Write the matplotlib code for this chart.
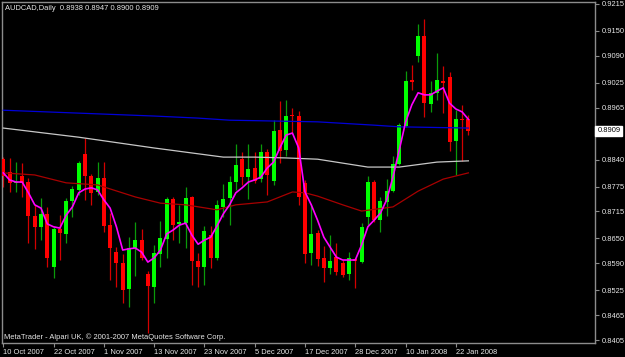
import matplotlib

matplotlib.use("Agg")

import matplotlib.pyplot as plt
import matplotlib.transforms as mtransforms
import numpy as np

plt.rcParams["font.family"] = ["Liberation Sans", "DejaVu Sans"]

# daily AUDCAD bars, 10 Oct 2007 .. 24 Jan 2008
opens = [0.8841, 0.8810, 0.8784, 0.8800, 0.8786, 0.8704, 0.8678, 0.8709, 0.8581, 0.8673,
         0.8661, 0.8740, 0.8767, 0.8854, 0.8800, 0.8762, 0.8796, 0.8682, 0.8617, 0.8591,
         0.8528, 0.8627, 0.8646, 0.8564, 0.8533, 0.8613, 0.8649, 0.8745, 0.8685, 0.8687,
         0.8750, 0.8596, 0.8581, 0.8658, 0.8603, 0.8726, 0.8747, 0.8786, 0.8841, 0.8798,
         0.8820, 0.8793, 0.8858, 0.8788, 0.8911, 0.8863, 0.8947, 0.8945, 0.8784, 0.8615,
         0.8663, 0.8603, 0.8579, 0.8605, 0.8591, 0.8564, 0.8600, 0.8593, 0.8702, 0.8786,
         0.8694, 0.8738, 0.8764, 0.8829, 0.8921, 0.9032, 0.9090, 0.9138, 0.8974, 0.9001,
         0.9029, 0.9039, 0.8884, 0.8938, 0.8938]
highs = [0.8846, 0.8844, 0.8834, 0.8832, 0.8796, 0.8731, 0.8747, 0.8726, 0.8678, 0.8706,
         0.8747, 0.8776, 0.8837, 0.8892, 0.8805, 0.8834, 0.8834, 0.8711, 0.8629, 0.8613,
         0.8653, 0.8690, 0.8673, 0.8572, 0.8634, 0.8692, 0.8750, 0.8750, 0.8731, 0.8774,
         0.8752, 0.8615, 0.8680, 0.8680, 0.8743, 0.8781, 0.8800, 0.8878, 0.8858, 0.8878,
         0.8858, 0.8878, 0.8866, 0.8935, 0.8981, 0.8984, 0.8964, 0.8957, 0.8791, 0.8733,
         0.8670, 0.8632, 0.8658, 0.8639, 0.8598, 0.8617, 0.8603, 0.8687, 0.8800, 0.8791,
         0.8750, 0.8793, 0.8849, 0.8928, 0.9054, 0.9068, 0.9167, 0.9179, 0.9029, 0.9097,
         0.9065, 0.9051, 0.8960, 0.8972, 0.8947]
lows = [0.8774, 0.8762, 0.8762, 0.8750, 0.8639, 0.8625, 0.8646, 0.8581, 0.8555, 0.8598,
        0.8639, 0.8702, 0.8755, 0.8743, 0.8731, 0.8755, 0.8666, 0.8550, 0.8533, 0.8494,
        0.8485, 0.8559, 0.8598, 0.8422, 0.8494, 0.8581, 0.8603, 0.8646, 0.8639, 0.8627,
        0.8538, 0.8533, 0.8538, 0.8579, 0.8598, 0.8702, 0.8682, 0.8767, 0.8779, 0.8745,
        0.8784, 0.8786, 0.8755, 0.8779, 0.8832, 0.8849, 0.8904, 0.8731, 0.8591, 0.8586,
        0.8584, 0.8545, 0.8564, 0.8562, 0.8557, 0.8550, 0.8531, 0.8591, 0.8682, 0.8690,
        0.8666, 0.8704, 0.8762, 0.8827, 0.8919, 0.9008, 0.9075, 0.8943, 0.8955, 0.8984,
        0.8952, 0.8861, 0.8803, 0.8837, 0.8900]
closes = [0.8800, 0.8784, 0.8786, 0.8784, 0.8704, 0.8678, 0.8709, 0.8603, 0.8673, 0.8663,
          0.8740, 0.8769, 0.8832, 0.8800, 0.8760, 0.8796, 0.8680, 0.8627, 0.8591, 0.8526,
          0.8627, 0.8646, 0.8603, 0.8535, 0.8615, 0.8651, 0.8745, 0.8682, 0.8690, 0.8747,
          0.8596, 0.8581, 0.8668, 0.8603, 0.8731, 0.8745, 0.8786, 0.8827, 0.8798, 0.8817,
          0.8788, 0.8858, 0.8803, 0.8909, 0.8861, 0.8945, 0.8945, 0.8750, 0.8613, 0.8661,
          0.8600, 0.8579, 0.8596, 0.8569, 0.8562, 0.8603, 0.8596, 0.8678, 0.8786, 0.8694,
          0.8740, 0.8764, 0.8829, 0.8923, 0.9029, 0.9027, 0.9138, 0.8976, 0.9001, 0.9032,
          0.9025, 0.8882, 0.8938, 0.8935, 0.8909]

# fast moving average (magenta), one value per bar
ma_fast = [0.8808, 0.8791, 0.8786, 0.8786, 0.8760, 0.8731, 0.8723, 0.8685, 0.8678, 0.8675,
           0.8706, 0.8726, 0.8760, 0.8769, 0.8772, 0.8767, 0.8743, 0.8723, 0.8678, 0.8622,
           0.8625, 0.8627, 0.8617, 0.8593, 0.8603, 0.8622, 0.8661, 0.8670, 0.8682, 0.8687,
           0.8658, 0.8636, 0.8646, 0.8653, 0.8680, 0.8709, 0.8731, 0.8760, 0.8772, 0.8786,
           0.8791, 0.8798, 0.8820, 0.8834, 0.8868, 0.8899, 0.8904, 0.8868, 0.8762, 0.8731,
           0.8694, 0.8653, 0.8629, 0.8605, 0.8598, 0.8598, 0.8598, 0.8634, 0.8678, 0.8694,
           0.8711, 0.8743, 0.8798, 0.8863, 0.8930, 0.8972, 0.9001, 0.8996, 0.8996, 0.9005,
           0.9013, 0.8976, 0.8962, 0.8955, 0.8937]

# slow averages, read at a few bars
ma_blue_bar = [0, 24, 31, 36, 50, 59, 63, 74]
ma_blue = [0.8959, 0.8945, 0.8940, 0.8935, 0.8931, 0.8923, 0.8919, 0.8916]
ma_gray_bar = [0, 12, 24, 29, 35, 40, 45, 50, 58, 63, 69, 74]
ma_gray = [0.8916, 0.8894, 0.8868, 0.8858, 0.8846, 0.8846, 0.8844, 0.8841, 0.8822, 0.8822, 0.8834, 0.8837]
ma_red_bar = [0, 5, 10, 15, 21, 25, 29, 34, 37, 42, 44, 46, 48, 50, 54, 57, 62, 66, 70, 74]
ma_red = [0.8808, 0.8803, 0.8784, 0.8779, 0.8750, 0.8735, 0.8731, 0.8719, 0.8731, 0.8738,
          0.8750, 0.8762, 0.8760, 0.8752, 0.8731, 0.8716, 0.8726, 0.8764, 0.8793, 0.8808]

date_ticks = [0, 8, 16, 24, 32, 40, 48, 56, 64, 72]
date_labels = ["10 Oct 2007", "22 Oct 2007", "1 Nov 2007", "13 Nov 2007", "23 Nov 2007",
               "5 Dec 2007", "17 Dec 2007", "28 Dec 2007", "10 Jan 2008", "22 Jan 2008"]
price_ticks = [0.9215, 0.9150, 0.9090, 0.9025, 0.8965, 0.8900, 0.8840, 0.8775, 0.8715,
               0.8650, 0.8590, 0.8525, 0.8465, 0.8405]

TXT = "#e8e8e8"
FRAME = "#8c8c8c"

fig = plt.figure(figsize=(6.25, 3.57), dpi=100, facecolor="black")
ax = fig.add_axes([2 / 625, 14 / 357, 593 / 625, 341 / 357], facecolor="black")

o, h, l, c = (np.array(v) for v in (opens, highs, lows, closes))
x = np.arange(len(o))
up = c > o
wick_col = np.where(up, "#0a9a0a", "#d40000")
body_col = np.where(up, "#00ff00", "#ff0000")

ax.vlines(x, l, h, colors=wick_col, lw=0.9, zorder=2)
ax.bar(x, np.maximum(np.abs(c - o), 0.00028), bottom=np.minimum(o, c), width=0.64,
       color=body_col, lw=0, zorder=3)

ax.plot(ma_blue_bar, ma_blue, color="#0000d8", lw=0.9, zorder=4)
ax.plot(ma_gray_bar, ma_gray, color="#c8c8c8", lw=0.9, zorder=4)
ax.plot(ma_red_bar, ma_red, color="#a80000", lw=0.9, zorder=4)
ax.plot(x, ma_fast, color="#ff00ff", lw=1.2, zorder=5)

ax.set_xlim((2 - 3.3) / 6.285, (595 - 3.3) / 6.285)
ax.set_ylim(0.9215 - 339 * 0.000241, 0.9215 + 2 * 0.000241)

for s in ax.spines.values():
    s.set_color(FRAME)
    s.set_linewidth(1.0)

# the 0.8900 level sits under the current-price box, so its label stays blank
ax.yaxis.tick_right()
ax.set_yticks(price_ticks, ["" if v == 0.8900 else f"{v:.4f}" for v in price_ticks])
ax.set_xticks(date_ticks, date_labels)
for lab in ax.get_xticklabels():
    lab.set_horizontalalignment("left")
ax.tick_params(axis="both", direction="out", length=3, width=0.8, color=FRAME,
               labelcolor=TXT, labelsize=5.4)
ax.tick_params(axis="y", pad=1.5)
ax.tick_params(axis="x", pad=1.5)

trans = mtransforms.blended_transform_factory(ax.transAxes, ax.transData)
ax.text(1.004, closes[-1], f"{closes[-1]:.4f}", transform=trans, fontsize=5.4,
        color="black", va="center", ha="left", zorder=10, clip_on=False,
        bbox=dict(boxstyle="square,pad=0.25", fc="white", ec="white"))

header = f"{'AUDCAD,Daily'}  {opens[-1]:.4f} {highs[-1]:.4f} {lows[-1]:.4f} {closes[-1]:.4f}"
fig.text(5 / 625, 1 - 8 / 357, header, color=TXT, fontsize=5.4, va="center", ha="left")
fig.text(4 / 625, 1 - 337 / 357, "MetaTrader - Alpari UK, \u00a9 2001-2007 MetaQuotes Software Corp.",
         color=TXT, fontsize=5.4, va="center", ha="left")

fig.savefig("out.png", dpi=100, facecolor="black")
